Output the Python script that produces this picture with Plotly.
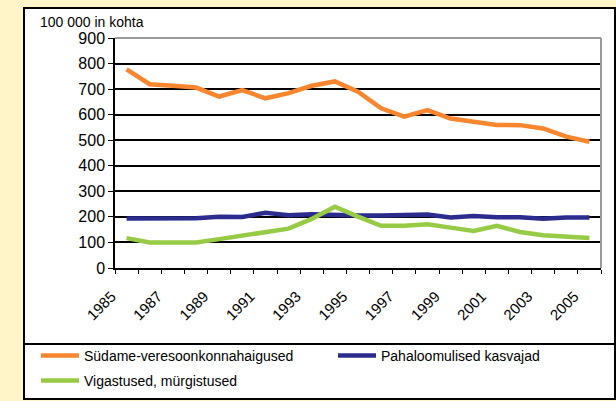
import plotly.graph_objects as go

years = list(range(1985, 2006))
label_years = list(range(1985, 2006, 2))
cardio = [777, 719, 713, 706, 671, 696, 664, 684, 713, 730, 690, 625, 592, 618, 585, 572, 560, 559, 546, 514, 494]
cancer = [194, 194, 194, 195, 201, 200, 216, 206, 210, 206, 205, 205, 205, 209, 198, 203, 199, 199, 193, 198, 198]
injury = [117, 100, 100, 100, 113, 128, 141, 154, 192, 240, 201, 165, 165, 171, 158, 145, 165, 141, 128, 123, 117]
names = ["Südame-veresoonkonnahaigused", "Pahaloomulised kasvajad", "Vigastused, mürgistused"]
colors = ["#F7862F", "#2B2C8E", "#97CB45"]
y_ticks = list(range(0, 1000, 100))

W, H = 616, 401
L, R, T, B = 115, 15, 38, 133
PW, PH = W - L - R, H - T - B

def px(x):
    return (x - L) / PW

def py(y):
    return (H - B - y) / PH

FONT = "Liberation Sans, Arial, sans-serif"

fig = go.Figure()
series = [cardio, cancer, injury]
legend_ids = ["legend", "legend2", "legend3"]
for nm, vals, c, lg in zip(names, series, colors, legend_ids):
    fig.add_trace(go.Scatter(
        x=years, y=vals, mode="lines", name=nm,
        line=dict(color=c, width=4.5),
        legend=lg, hoverinfo="skip",
    ))

shapes = [
    dict(type="rect", xref="paper", yref="paper", x0=px(24), x1=px(615), y0=py(8), y1=py(344),
         fillcolor="white", line=dict(color="black", width=2), layer="below"),
    dict(type="rect", xref="paper", yref="paper", x0=px(24), x1=px(615), y0=py(344), y1=py(399),
         fillcolor="white", line=dict(color="black", width=2), layer="below"),
    dict(type="line", xref="paper", yref="paper", x0=0, x1=1, y0=1, y1=1,
         line=dict(color="#999999", width=2), layer="above"),
    dict(type="line", xref="paper", yref="paper", x0=1, x1=1, y0=0, y1=1,
         line=dict(color="#999999", width=2), layer="above"),
]

leg_common = dict(orientation="h", xanchor="left", yanchor="middle",
                  bgcolor="rgba(0,0,0,0)", font=dict(size=14, family=FONT), itemwidth=38)

fig.update_layout(
    width=W, height=H,
    margin=dict(l=L, r=R, t=T, b=B, autoexpand=False),
    paper_bgcolor="#FFF5C8",
    plot_bgcolor="white",
    font=dict(family=FONT, color="black"),
    shapes=shapes,
    showlegend=True,
    legend=dict(x=px(36), y=py(356), **leg_common),
    legend2=dict(x=px(333), y=py(356), **leg_common),
    legend3=dict(x=px(36), y=py(381), **leg_common),
    annotations=[dict(text="100 000 in kohta", xref="paper", yref="paper",
                      x=px(38), y=py(22), xanchor="left", yanchor="middle",
                      showarrow=False, font=dict(size=14, family=FONT))],
)

fig.update_xaxes(
    range=[1984.5, 2005.5],
    tickmode="array", tickvals=label_years, ticktext=[str(y) for y in label_years],
    tickangle=-45, ticks="", showgrid=False, zeroline=False,
    showline=True, linecolor="black", linewidth=1.5,
    tickfont=dict(size=15, family=FONT), ticklabelstandoff=12, ticklabelshift=-15,
    minor=dict(tickmode="linear", tick0=1984.5, dtick=1, ticks="outside", ticklen=4,
               tickcolor="black", tickwidth=1, showgrid=False),
)
fig.update_yaxes(
    range=[0, 900], tickmode="array", tickvals=y_ticks,
    ticks="outside", ticklen=5, tickcolor="black",
    showgrid=True, gridcolor="black", gridwidth=1.6, zeroline=False,
    showline=True, linecolor="black", linewidth=1.5,
    tickfont=dict(size=16, family=FONT),
)

fig.write_html("out.html", config={"displayModeBar": False},
               post_script="document.body.style.margin='0';document.body.style.background='#FFF5C8';")
